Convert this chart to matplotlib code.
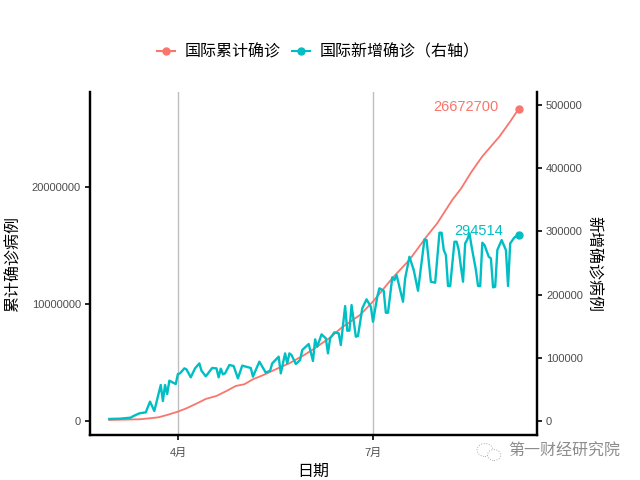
import pandas as pd
import matplotlib.pyplot as plt
from matplotlib.lines import Line2D
from matplotlib.patches import Ellipse

plt.rcParams['font.family'] = ['Noto Sans CJK SC', 'DejaVu Sans']

# days counted from 2020-04-01
total_days = [-32, -18, -13, -9, -5, 0, 4, 9, 13, 18, 23, 27, 31, 35, 40, 46, 52, 59, 65, 71,
              76, 85, 91, 100, 108, 116, 121, 125, 128, 132, 137, 142, 150, 155, 159]
total_cases = [85000, 142000, 228000, 314000, 513000, 798000, 1083000, 1510000, 1880000, 2137000,
               2593000, 2991000, 3134000, 3561000, 3932000, 4444000, 4929000, 5641000, 6353000, 7123000,
               7920000, 9060000, 10200000, 12194000, 13761000, 15754000, 16895000, 18034000, 18889000,
               19830000, 21300000, 22600000, 24300000, 25580000, 26672700]

new_days = [-32, -27, -22, -21, -18, -15, -13, -11, -8, -7, -6, -5, -4, -1, 0, 1, 3, 4, 6, 8, 10, 11, 13,
            16, 18, 19, 20, 21, 22, 24, 26, 28, 30, 34, 35, 38, 41, 43, 44, 47, 48, 50, 51, 52, 53, 55,
            57, 58, 61, 63, 64, 65, 67, 69, 70, 71, 73, 75, 76, 78, 79, 80, 81, 83, 84, 86, 88, 90, 91,
            93, 94, 96, 97, 98, 100, 101, 102, 105, 106, 108, 110, 112, 115, 116, 118, 120, 122, 123, 124,
            125, 126, 127, 129, 130, 131, 132, 133, 134, 135, 136, 137, 139, 140, 141, 142, 143, 145, 146,
            147, 148, 149, 151, 153, 154, 155, 157, 159]
new_cases = [3200, 3700, 5300, 7400, 12100, 13700, 30600, 15800, 57000, 31600, 57000, 42700, 63800, 58500,
             74400, 75400, 83300, 81700, 69100, 83300, 91200, 79600, 70700,
             83900, 83300, 69100, 82800, 73800, 75400, 88600, 87000, 67500, 87600, 83900, 70200, 93900,
             76500, 79600, 91200, 101800, 75400, 107000, 91200, 107000, 104400, 90200,
             96500, 112300, 121800, 94900, 129200, 117600, 137100, 130800, 107000, 130800, 140300, 138700,
             120200, 181900, 142900, 142900, 183500, 133400, 134500, 178200, 192500, 180800, 157100,
             196700, 209900, 206100, 171300, 171300, 227300, 223100, 231000, 188700, 225700, 259900,
             238900, 206100, 287400, 286300, 220400, 218800, 297900, 297900, 270500,
             262600, 213600, 213600, 283700, 283700, 270500, 244100, 220400, 281100, 287400, 296900, 275800,
             238900, 213600, 213600, 282100, 278400, 259900, 257300,
             211500, 212500, 270500, 286300, 270500, 213600, 281100, 290600, 294514]

left_ticks = [0, 10000000, 20000000]
right_ticks = [0, 100000, 200000, 300000, 400000, 500000]
month_ticks = ['2020-04-01', '2020-07-01']
month_labels = ['4月', '7月']

RED = '#F8766D'
CYAN = '#00BFC4'
TICK_GRAY = '#4D4D4D'
start = pd.Timestamp('2020-04-01')
total_x = [start + pd.Timedelta(days=d) for d in total_days]
new_x = [start + pd.Timedelta(days=d) for d in new_days]

fig = plt.figure(figsize=(6.4, 4.8), dpi=100)
ax = fig.add_axes([90 / 640, 45 / 480, 447 / 640, 343 / 480])
ax2 = ax.twinx()

ax.set_zorder(1)
ax2.set_zorder(2)
ax.plot(total_x, total_cases, color=RED, linewidth=1.3)
ax.plot(total_x[-1], total_cases[-1], 'o', color=RED, markersize=5)
ax2.plot(new_x, new_cases, color=CYAN, linewidth=1.7)
ax2.plot(new_x[-1], new_cases[-1], 'o', color=CYAN, markersize=5)

ax.set_xlim(start + pd.Timedelta(days=-41), start + pd.Timedelta(days=167.5))
ax.set_ylim(-1200000, 28100000)
ax2.set_ylim(-22150, 520600)

ax.set_xticks(pd.to_datetime(month_ticks))
ax.set_xticklabels(month_labels)
ax.set_yticks(left_ticks)
ax.set_yticklabels([str(v) for v in left_ticks])
ax2.set_yticks(right_ticks)
ax2.set_yticklabels([str(v) for v in right_ticks])
ax.grid(axis='x', color='#BEBEBE', linewidth=1)
ax.set_axisbelow(True)

for a in (ax, ax2):
    a.spines['top'].set_visible(False)
    for side in ('left', 'right', 'bottom'):
        a.spines[side].set_linewidth(1.6)
    a.tick_params(length=3.5, width=1.2, labelsize=8, labelcolor=TICK_GRAY, pad=3)
    for lab in a.get_xticklabels() + a.get_yticklabels():
        lab.set_family(['Liberation Sans', 'Noto Sans CJK SC'])
ax.tick_params(axis='x', pad=5.5)

ax.set_xlabel('日期', fontsize=11.5, labelpad=4)
ax.set_ylabel('累计确诊病例', fontsize=11.5, labelpad=7)
ax2.set_ylabel('新增确诊病例', fontsize=11.5, rotation=-90, labelpad=14)

ax.annotate(str(total_cases[-1]), (total_x[-1], total_cases[-1]), xytext=(-14.5, 1.5), textcoords='offset points',
            color=RED, fontsize=10.5, ha='right', va='center', family='Liberation Sans')
ax2.annotate(str(new_cases[-1]), (new_x[-1], new_cases[-1]), xytext=(-11, 3), textcoords='offset points',
             color=CYAN, fontsize=10.5, ha='right', va='center', family='Liberation Sans')

handles = [Line2D([], [], color=RED, marker='o', markersize=5, linewidth=1.5),
           Line2D([], [], color=CYAN, marker='o', markersize=5, linewidth=1.5)]
fig.legend(handles, ['国际累计确诊', '国际新增确诊（右轴）'], loc='center', bbox_to_anchor=(0.497, 0.892),
           ncol=2, frameon=False, fontsize=11.5, handlelength=1.15, handletextpad=0.6, columnspacing=0.7)

# watermark
fig.text(508 / 640, 1 - 451 / 480, '第一财经研究院', color='#8C8C8C', fontsize=11.5, va='center')
icon = fig.add_axes([475 / 640, 1 - 463 / 480, 28 / 640, 22 / 480])
icon.set_xlim(0, 28)
icon.set_ylim(0, 22)
icon.axis('off')
icon.add_patch(Ellipse((10, 13), 16, 13, fill=False, ec='#AAAAAA', lw=0.7, ls=':'))
icon.add_patch(Ellipse((19, 8), 13, 11, fc='white', ec='#AAAAAA', lw=0.7, ls=':'))

fig.savefig('out.png', dpi=100)
